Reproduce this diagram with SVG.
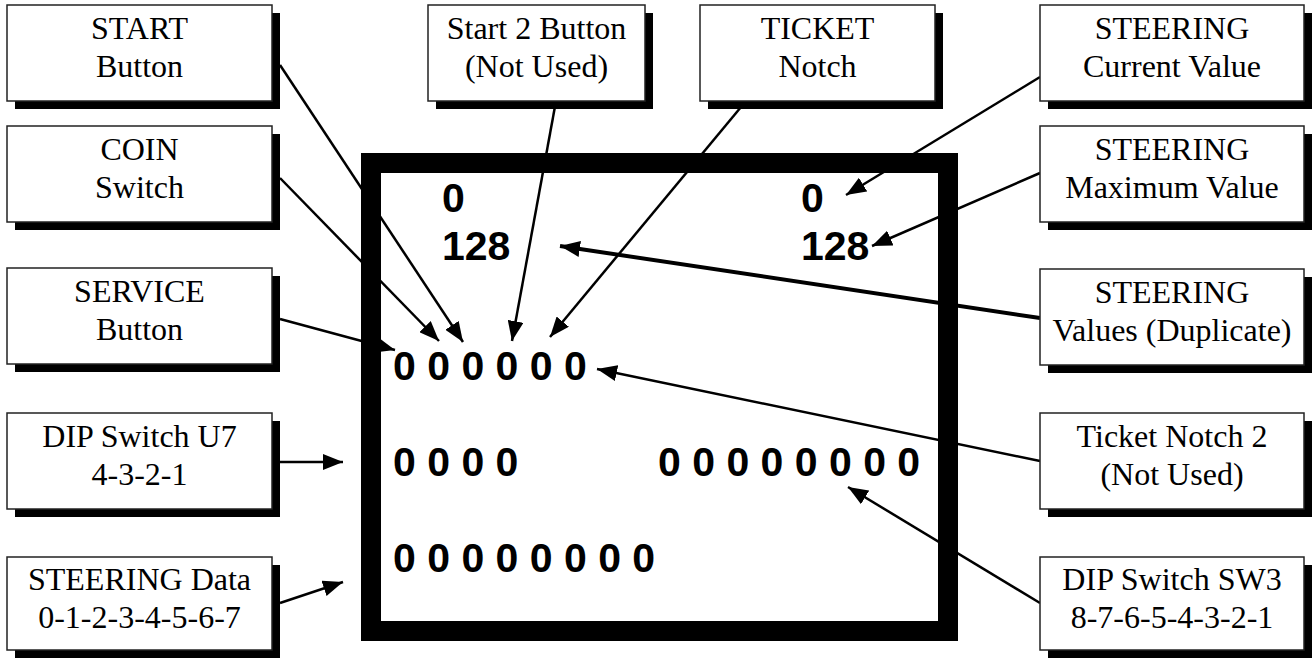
<svg xmlns="http://www.w3.org/2000/svg" width="1312" height="659" viewBox="0 0 1312 659">
<style>
.box{fill:#fff;stroke:#222;stroke-width:1.5}
.sh{fill:#000}
.lbl{font-family:"Liberation Serif","Times New Roman",serif;font-size:32px;fill:#000;text-anchor:middle}
.val{font-family:"Liberation Sans",Arial,sans-serif;font-weight:bold;font-size:41px;fill:#000}
.con{stroke:#000;stroke-width:2.5;fill:none;marker-end:url(#ah)}
.thick{stroke-width:4}
</style>
<defs>
<marker id="ah" markerUnits="userSpaceOnUse" markerWidth="21" markerHeight="16" refX="20" refY="8" orient="auto">
<path d="M0,0 L20,8 L0,16 z" fill="#000"/>
</marker>
</defs>
<rect width="1312" height="659" fill="#fff"/>
<g id="connectors">
<line class="con" x1="280" y1="65" x2="463" y2="342"/>
<line class="con" x1="280" y1="178" x2="439" y2="341"/>
<line class="con" x1="280" y1="319" x2="395" y2="350"/>
<line class="con" x1="280" y1="462" x2="343" y2="462"/>
<line class="con" x1="280" y1="603" x2="343" y2="582"/>
<line class="con" x1="556" y1="101" x2="512" y2="341"/>
<line class="con" x1="746" y1="101" x2="550" y2="337"/>
<line class="con" x1="1040" y1="77" x2="846" y2="195"/>
<line class="con" x1="1040" y1="173" x2="872" y2="246"/>
<line class="con thick" x1="1040" y1="318" x2="560" y2="246"/>
<line class="con" x1="1040" y1="461" x2="597" y2="369"/>
<line class="con" x1="1040" y1="603" x2="848" y2="487"/>
</g>
<g id="screen">
<rect x="371" y="163" width="577" height="468" fill="none" stroke="#000" stroke-width="20"/>
<text class="val" x="442" y="212">0</text>
<text class="val" x="442" y="260">128</text>
<text class="val" x="801" y="212">0</text>
<text class="val" x="801" y="260">128</text>
<text class="val" x="393" y="380" xml:space="preserve">0 0 0 0 0 0</text>
<text class="val" x="393" y="476" xml:space="preserve">0 0 0 0</text>
<text class="val" x="658" y="476" xml:space="preserve">0 0 0 0 0 0 0 0</text>
<text class="val" x="393" y="572" xml:space="preserve">0 0 0 0 0 0 0 0</text>
</g>
<g id="start-button">
<rect class="sh" x="15" y="13" width="265" height="96"/>
<rect class="box" x="7" y="5" width="265" height="96"/>
<text class="lbl" x="139.5" y="39">START</text>
<text class="lbl" x="139.5" y="77">Button</text>
</g>
<g id="coin-switch">
<rect class="sh" x="15" y="134" width="265" height="96"/>
<rect class="box" x="7" y="126" width="265" height="96"/>
<text class="lbl" x="139.5" y="160">COIN</text>
<text class="lbl" x="139.5" y="198">Switch</text>
</g>
<g id="service-button">
<rect class="sh" x="15" y="276" width="265" height="96"/>
<rect class="box" x="7" y="268" width="265" height="96"/>
<text class="lbl" x="139.5" y="302">SERVICE</text>
<text class="lbl" x="139.5" y="340">Button</text>
</g>
<g id="dip-u7">
<rect class="sh" x="15" y="421" width="265" height="96"/>
<rect class="box" x="7" y="413" width="265" height="96"/>
<text class="lbl" x="139.5" y="447">DIP Switch U7</text>
<text class="lbl" x="139.5" y="485">4-3-2-1</text>
</g>
<g id="steering-data">
<rect class="sh" x="15" y="565" width="265" height="93"/>
<rect class="box" x="7" y="557" width="265" height="93"/>
<text class="lbl" x="139.5" y="590">STEERING Data</text>
<text class="lbl" x="139.5" y="628">0-1-2-3-4-5-6-7</text>
</g>
<g id="start2-button">
<rect class="sh" x="436" y="13" width="217" height="96"/>
<rect class="box" x="428" y="5" width="217" height="96"/>
<text class="lbl" x="536.5" y="39">Start 2 Button</text>
<text class="lbl" x="536.5" y="77">(Not Used)</text>
</g>
<g id="ticket-notch">
<rect class="sh" x="708" y="13" width="235" height="96"/>
<rect class="box" x="700" y="5" width="235" height="96"/>
<text class="lbl" x="817.5" y="39">TICKET</text>
<text class="lbl" x="817.5" y="77">Notch</text>
</g>
<g id="steering-current">
<rect class="sh" x="1048" y="13" width="264" height="96"/>
<rect class="box" x="1040" y="5" width="264" height="96"/>
<text class="lbl" x="1172" y="39">STEERING</text>
<text class="lbl" x="1172" y="77">Current Value</text>
</g>
<g id="steering-maximum">
<rect class="sh" x="1048" y="134" width="264" height="96"/>
<rect class="box" x="1040" y="126" width="264" height="96"/>
<text class="lbl" x="1172" y="160">STEERING</text>
<text class="lbl" x="1172" y="198">Maximum Value</text>
</g>
<g id="steering-duplicate">
<rect class="sh" x="1048" y="277" width="264" height="96"/>
<rect class="box" x="1040" y="269" width="264" height="96"/>
<text class="lbl" x="1172" y="303">STEERING</text>
<text class="lbl" x="1172" y="341">Values (Duplicate)</text>
</g>
<g id="ticket-notch-2">
<rect class="sh" x="1048" y="421" width="264" height="96"/>
<rect class="box" x="1040" y="413" width="264" height="96"/>
<text class="lbl" x="1172" y="447">Ticket Notch 2</text>
<text class="lbl" x="1172" y="485">(Not Used)</text>
</g>
<g id="dip-sw3">
<rect class="sh" x="1048" y="565" width="264" height="93"/>
<rect class="box" x="1040" y="557" width="264" height="93"/>
<text class="lbl" x="1172" y="590">DIP Switch SW3</text>
<text class="lbl" x="1172" y="628">8-7-6-5-4-3-2-1</text>
</g>
</svg>
